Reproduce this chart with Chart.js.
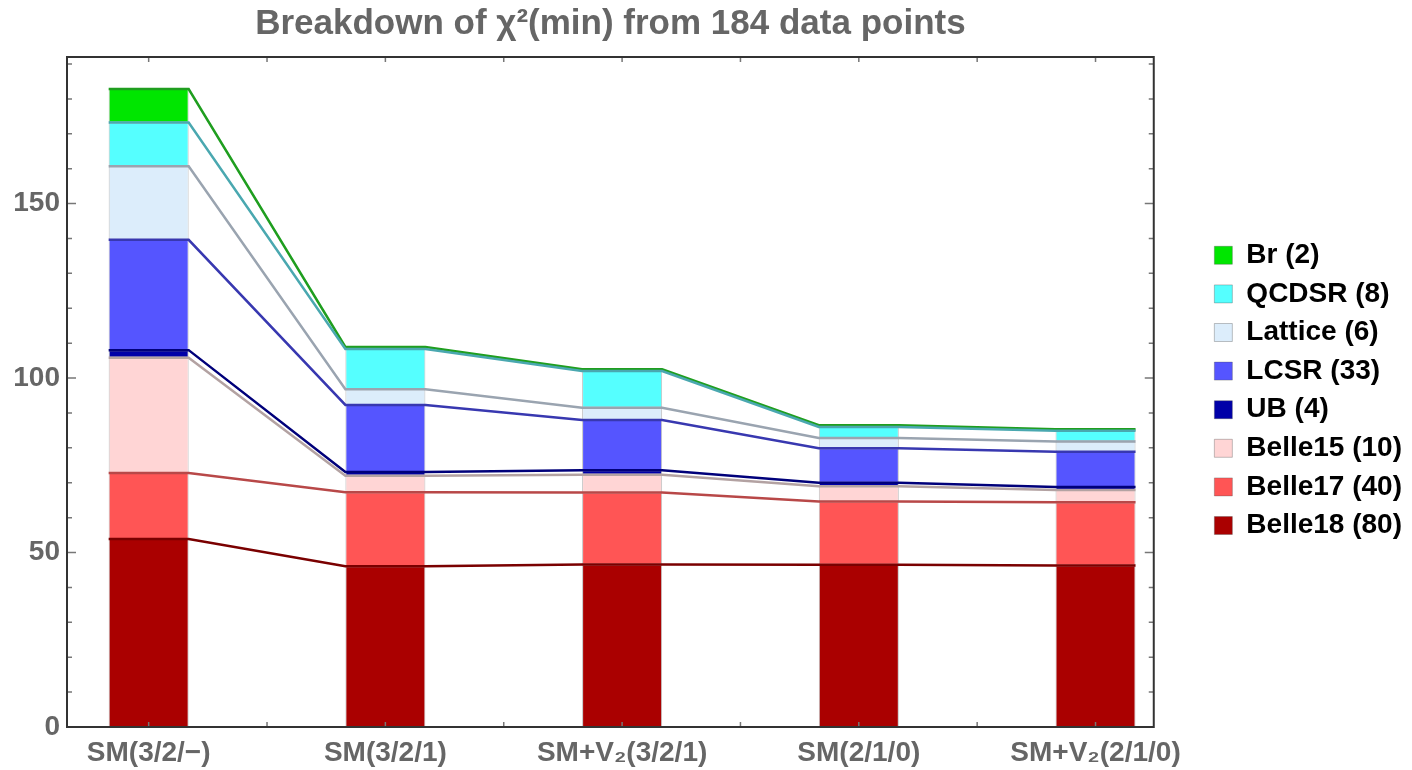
<!DOCTYPE html>
<html>
<head>
<meta charset="utf-8">
<title>Breakdown of chi2(min)</title>
<script src="https://cdn.jsdelivr.net/npm/chart.js@4.4.1/dist/chart.umd.min.js"></script>
<style>
  html, body { margin: 0; padding: 0; background: #fff; }
  #wrap { position: relative; width: 1412px; height: 770px; }
</style>
</head>
<body>
<div id="wrap"><canvas id="breakdown-chart"></canvas></div>
<script>
// fits along the x axis
const fitLabels = ["SM(3/2/\u2212)", "SM(3/2/1)", "SM+V\u2082(3/2/1)", "SM(2/1/0)", "SM+V\u2082(2/1/0)"];
const fitPositions = [1, 2, 3, 4, 5];

// chi2 contribution of each data set, per fit
const belle18 = [53.9, 46.1, 46.6, 46.5, 46.3];
const belle17 = [18.9, 21.2, 20.6, 18.1, 18.1];
const belle15 = [33.0, 4.7, 5.1, 4.4, 3.5];
const ub = [2.2, 1.1, 1.3, 1.0, 0.9];
const lcsr = [31.6, 19.2, 14.4, 9.9, 10.1];
const lattice = [21.1, 4.5, 3.5, 2.9, 2.9];
const qcdsr = [12.5, 11.5, 10.5, 3.2, 3.1];
const br = [9.6, 0.6, 0.5, 0.5, 0.4];

// legend names, bottom of the stack first
const setNames = ["Belle18 (80)", "Belle17 (40)", "Belle15 (10)", "UB (4)", "LCSR (33)", "Lattice (6)", "QCDSR (8)", "Br (2)"];

// axis ticks
const yTicks = [0, 50, 100, 150];
const yMinorStep = 10;
const xMinorStep = 0.5;

const setSeries = [belle18, belle17, belle15, ub, lcsr, lattice, qcdsr, br];
const fillColors = ["#aa0000", "#ff5555", "#ffd5d5", "#0000a8", "#5555ff", "#dcedfb", "#55ffff", "#00e600"];
const lineColors = ["#7a0000", "#b84848", "#b3a2a2", "#00007a", "#3838b0", "#9aa4b0", "#4aa8b0", "#1f9e1f"];

const barHalf = 0.169; // half bar width in x units
const ctx = document.getElementById("breakdown-chart");

// running top of the stack for each data set
function stackTops(level) {
  return fitPositions.map((pos, i) => {
    let sum = 0;
    for (let k = 0; k <= level; k++) sum += setSeries[k][i];
    return sum;
  });
}

let datasets = [];

// connecting lines: across each bar top, then over to the next bar
setSeries.forEach((series, k) => {
  const tops = stackTops(k);
  let pts = [];
  fitPositions.forEach((pos, i) => {
    pts.push({ x: pos - barHalf, y: tops[i] });
    pts.push({ x: pos + barHalf, y: tops[i] });
  });
  datasets.push({
    type: "line",
    label: setNames[k] + " line",
    data: pts,
    stack: "line" + k,
    borderColor: lineColors[k],
    borderWidth: 2.5,
    pointRadius: 0,
    tension: 0,
    fill: false,
    order: 0,
  });
});

// stacked bars
setSeries.forEach((series, k) => {
  datasets.push({
    type: "bar",
    label: setNames[k],
    data: fitPositions.map((pos, i) => ({ x: pos, y: series[i] })),
    stack: "fit",
    backgroundColor: fillColors[k],
    borderColor: "rgba(80, 80, 80, 0.35)",
    borderWidth: 1,
    borderSkipped: false,
    barPercentage: barHalf * 2,
    categoryPercentage: 1,
    order: 1,
  });
});

// frame with inward ticks on all four sides
const frameTicks = {
  id: "frameTicks",
  afterDatasetsDraw(chart) {
    const { ctx, chartArea: a, scales } = chart;
    const x = scales.x;
    const y = scales.y;
    ctx.save();
    ctx.strokeStyle = "#777";
    ctx.lineWidth = 1.5;
    ctx.beginPath();
    for (let v = y.min; v <= y.max; v += yMinorStep) {
      const py = y.getPixelForValue(v);
      const len = yTicks.includes(v) ? 9 : 5;
      ctx.moveTo(a.left, py);
      ctx.lineTo(a.left + len, py);
      ctx.moveTo(a.right, py);
      ctx.lineTo(a.right - len, py);
    }
    for (let v = fitPositions[0]; v <= fitPositions[fitPositions.length - 1]; v += xMinorStep) {
      const px = x.getPixelForValue(v);
      ctx.moveTo(px, a.bottom);
      ctx.lineTo(px, a.bottom - 5);
      ctx.moveTo(px, a.top);
      ctx.lineTo(px, a.top + 5);
    }
    ctx.stroke();
    ctx.strokeStyle = "#333";
    ctx.lineWidth = 2;
    ctx.strokeRect(a.left, a.top, a.right - a.left, a.bottom - a.top);
    ctx.restore();
  },
};

Chart.defaults.font.family = "'Liberation Sans', Arial, sans-serif";

new Chart(ctx, {
  type: "bar",
  data: { datasets: datasets },
  plugins: [frameTicks],
  options: {
    responsive: true,
    maintainAspectRatio: false,
    animation: false,
    devicePixelRatio: 1,
    layout: { padding: { left: 0, right: 0, top: 0, bottom: 0 } },
    scales: {
      x: {
        type: "linear",
        min: 0.655,
        max: 5.246,
        offset: false,
        grid: { display: false, drawTicks: false },
        border: { display: false },
        afterBuildTicks: (scale) => {
          scale.ticks = fitPositions.map((v) => ({ value: v }));
        },
        afterFit: (scale) => {
          scale.height = 43;
        },
        ticks: {
          autoSkip: false,
          maxRotation: 0,
          padding: 9,
          color: "#666",
          font: { size: 28, weight: "bold" },
          callback: (value, i) => fitLabels[i],
        },
      },
      y: {
        stacked: true,
        min: 0,
        max: 192,
        grid: { display: false, drawTicks: false },
        border: { display: false },
        afterBuildTicks: (scale) => {
          scale.ticks = yTicks.map((v) => ({ value: v }));
        },
        afterFit: (scale) => {
          scale.width = 67;
        },
        ticks: {
          padding: 7,
          color: "#666",
          font: { size: 28, weight: "bold" },
        },
      },
      y2: {
        position: "right",
        min: 0,
        max: 192,
        grid: { display: false, drawTicks: false },
        border: { display: false },
        ticks: { display: false },
        afterFit: (scale) => {
          scale.width = 50;
        },
      },
    },
    plugins: {
      title: {
        display: true,
        text: "Breakdown of \u03c7\u00b2(min) from 184 data points",
        fullSize: false,
        color: "#666",
        font: { size: 35, weight: "bold" },
        padding: { top: 3, bottom: 12 },
      },
      legend: {
        display: true,
        position: "right",
        reverse: true,
        title: { display: true, text: "", padding: 0, font: { size: 9 } },
        labels: {
          color: "#000",
          boxWidth: 18,
          boxHeight: 18,
          padding: 10.6,
          font: { size: 28, weight: "bold" },
          filter: (item, data) => data.datasets[item.datasetIndex].type === "bar",
        },
      },
      tooltip: { enabled: false },
    },
  },
});
</script>
</body>
</html>
